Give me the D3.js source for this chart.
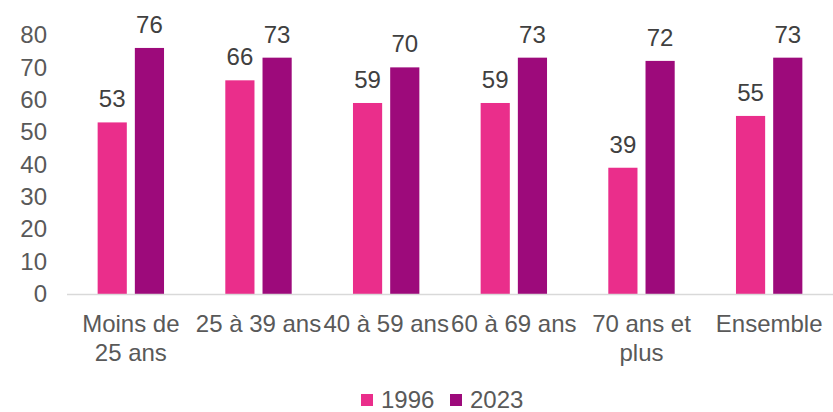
<!DOCTYPE html>
<html>
<head>
<meta charset="utf-8">
<script src="https://cdn.jsdelivr.net/npm/d3@7"></script>
<style>
  body { margin: 0; background: #fff; }
  text { font-family: "Liberation Sans", Arial, sans-serif; }
</style>
</head>
<body>
<script>
// chart data
var categories = ['Moins de 25 ans', '25 à 39 ans', '40 à 59 ans', '60 à 69 ans', '70 ans et plus', 'Ensemble'];
var series = ['1996', '2023'];
var values1996 = [53, 66, 59, 59, 39, 55];
var values2023 = [76, 73, 70, 73, 72, 73];
var yTicks = [0, 10, 20, 30, 40, 50, 60, 70, 80];

var width = 833,
    height = 412;

var colors = { '1996': '#EA2E8B', '2023': '#9D0A7B' };

var svg = d3.select('body')
  .append('svg')
  .attr('width', width)
  .attr('height', height);

// plot area (named to avoid clashing with window.top)
var plotLeft = 67, plotRight = 833, plotBottom = 294, plotTop = 35;
var fontSize = '24px';

var y = d3.scaleLinear().domain([0, 80]).range([plotBottom, plotTop]);

var x0 = d3.scaleBand()
  .domain(categories)
  .range([plotLeft, plotRight])
  .paddingInner(0.48)
  .paddingOuter(0.24);

var x1 = d3.scaleBand()
  .domain(series)
  .range([0, x0.bandwidth()])
  .paddingInner(0.216);

var rows = categories.map(function(c, i) {
  return { cat: c, vals: [
    { key: '1996', value: values1996[i] },
    { key: '2023', value: values2023[i] }
  ]};
});

// y axis labels (no line, no ticks)
var yAxis = svg.append('g')
  .attr('transform', 'translate(' + 47 + ',0)')
  .call(d3.axisLeft(y).tickValues(yTicks).tickSize(0).tickPadding(0));
yAxis.select('.domain').remove();
yAxis.selectAll('text')
  .attr('fill', '#595959')
  .style('font-size', fontSize)
  .style('font-family', '"Liberation Sans", Arial, sans-serif');

// bars
var groups = svg.selectAll('g.grp')
  .data(rows)
  .enter()
  .append('g')
  .attr('class', 'grp')
  .attr('transform', function(d) { return 'translate(' + x0(d.cat) + ',0)'; });

groups.selectAll('rect')
  .data(function(d) { return d.vals; })
  .enter()
  .append('rect')
  .attr('x', function(d) { return x1(d.key); })
  .attr('y', function(d) { return y(d.value); })
  .attr('width', x1.bandwidth())
  .attr('height', function(d) { return y(0) - y(d.value); })
  .attr('fill', function(d) { return colors[d.key]; });

// value labels
groups.selectAll('text.val')
  .data(function(d) { return d.vals; })
  .enter()
  .append('text')
  .attr('class', 'val')
  .attr('x', function(d) { return x1(d.key) + x1.bandwidth() / 2; })
  .attr('y', function(d) { return y(d.value) - 15; })
  .attr('text-anchor', 'middle')
  .attr('fill', '#404040')
  .style('font-size', fontSize)
  .text(function(d) { return d.value; });

// x axis line
svg.append('line')
  .attr('x1', plotLeft)
  .attr('x2', plotRight)
  .attr('y1', plotBottom + 0.5)
  .attr('y2', plotBottom + 0.5)
  .attr('stroke', '#D9D9D9')
  .attr('stroke-width', 1.5);

// category labels, wrapped to the band step
var xAxis = svg.append('g')
  .attr('transform', 'translate(0,' + plotBottom + ')')
  .call(d3.axisBottom(x0).tickSize(0).tickPadding(0));
xAxis.select('.domain').remove();
xAxis.selectAll('text')
  .attr('fill', '#595959')
  .attr('dy', null)
  .style('font-size', fontSize)
  .style('font-family', '"Liberation Sans", Arial, sans-serif')
  .each(function(d) { wrap(d3.select(this), x0.step()); });

function wrap(text, maxW) {
  var words = text.text().split(' ');
  text.text(null);
  var line = [], lineNo = 0;
  var tspan = text.append('tspan').attr('x', 0).attr('y', 38);
  words.forEach(function(w) {
    line.push(w);
    tspan.text(line.join(' '));
    if (tspan.node().getComputedTextLength() > maxW && line.length > 1) {
      line.pop();
      tspan.text(line.join(' '));
      line = [w];
      lineNo++;
      tspan = text.append('tspan').attr('x', 0).attr('y', 38 + lineNo * 29).text(w);
    }
  });
}

// legend
var legend = svg.append('g');
var legendX = [361, 450];
series.forEach(function(s, i) {
  legend.append('rect')
    .attr('x', legendX[i])
    .attr('y', 394)
    .attr('width', 12)
    .attr('height', 12)
    .attr('fill', colors[s]);
  legend.append('text')
    .attr('x', legendX[i] + 20)
    .attr('y', 408)
    .attr('fill', '#595959')
    .style('font-size', fontSize)
    .text(s);
});
</script>
</body>
</html>
